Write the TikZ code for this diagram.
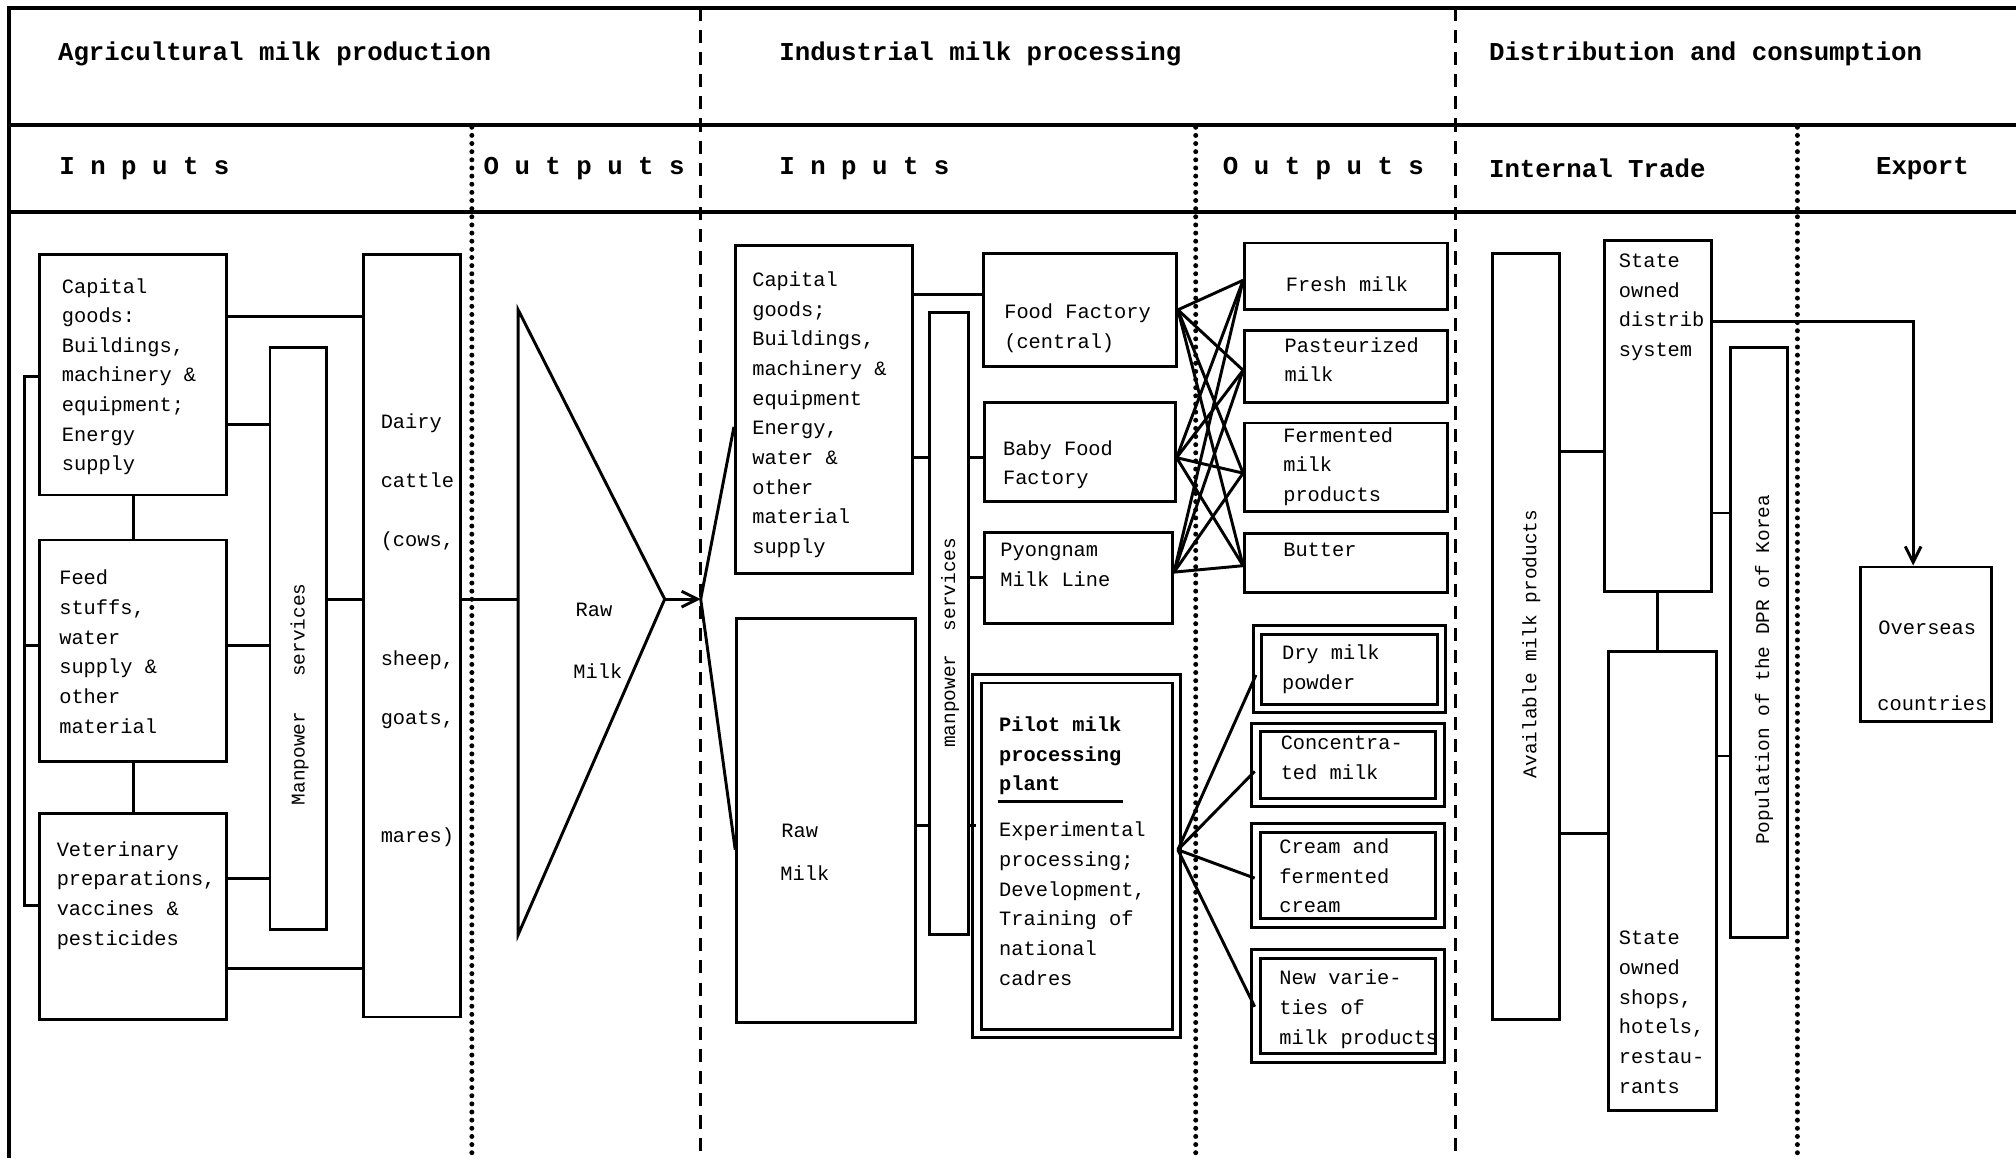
\documentclass[tikz,border=0pt]{standalone}
\usepackage{fontspec}
\usetikzlibrary{arrows.meta, positioning, fit}
\newfontfamily\typefont{Liberation Mono}
\newcommand{\hdrfont}{\typefont\bfseries\fontsize{5.7}{7}\selectfont}
\newcommand{\boxfont}{\typefont\fontsize{4.5}{6.55}\selectfont}
\newcommand{\vertfont}{\typefont\fontsize{4.3}{6}\selectfont}
\newcommand{\stackl}[1]{\begin{tabular}[t]{@{}l@{}}#1\end{tabular}}

\begin{document}
\begin{tikzpicture}[x=0.01cm, y=-0.01cm, line width=0.65pt,
  box/.style={draw, inner sep=0pt},
  dbox/.style={draw, double, double distance=1.2pt, inner sep=0pt},
  txt/.style={font=\boxfont, inner sep=0pt, anchor=base west},
  hdr/.style={font=\hdrfont, inner sep=0pt, anchor=west},
  vtxt/.style={font=\vertfont, inner sep=0pt, rotate=90},
  border/.style={line width=0.8pt},
  dashsep/.style={line width=0.55pt, dash pattern=on 2.9pt off 2pt},
  dotsep/.style={line width=1.1pt, line cap=round, dash pattern=on 0pt off 1.8pt},
  >={Straight Barb[length=3.5pt, width=3.5pt]}]
   \useasboundingbox (0,0) rectangle (1568,901);
   \draw[border] (1568,6) -- (7,6) -- (7,901);
   \draw[border] (7,97) -- (1568,97);
   \draw[border] (7,165) -- (1568,165);
   \draw[dashsep] (545,6) -- (545,901);
   \draw[dashsep] (1132,6) -- (1132,901);
   \foreach \x in {367,930,1398} \draw[dotsep] (\x,99) -- (\x,901);

   \node[hdr] (hAgr) at (44,42) {Agricultural milk production};
   \node[hdr] (hInd) at (605,42) {Industrial milk processing};
   \node[hdr] (hDis) at (1157,42) {Distribution and consumption};
   \node[hdr] (hInA) at (45,131) {I n p u t s};
   \node[hdr] (hOutA) at (375,131) {O u t p u t s};
   \node[hdr] (hInI) at (605,131) {I n p u t s};
   \node[hdr] (hOutI) at (950,131) {O u t p u t s};
   \node[hdr] (hTrade) at (1157,131) {Internal Trade};
   \node[hdr] (hExp) at (1458,131) {Export};

   \node[box, fit={(31,198) (176,385)}] (capA) {};
   \node[box, fit={(31,420) (176,592)}] (feedA) {};
   \node[box, fit={(31,633) (176,793)}] (vetA) {};
   \node[box, fit={(210,270) (254,723)}] (manA) {};
   \node[box, fit={(283,198) (358,791)}] (dairy) {};
   \node[txt] (capAt) at (47,228) {\stackl{Capital\\goods:\\Buildings,\\machinery \&\\equipment;\\Energy\\supply}};
   \node[txt] (feedAt) at (45,455) {\stackl{Feed\\stuffs,\\water\\supply \&\\other\\material}};
   \node[txt] (vetAt) at (43,666) {\stackl{Veterinary\\preparations,\\vaccines \&\\pesticides}};
   \node[txt] (dairyt) at (295,333) {\stackl{Dairy\\ \\cattle\\ \\(cows,\\ \\ \\ \\sheep,\\ \\goats,\\ \\ \\ \\mares)}};
   \node[vtxt] (manAt) at (233,540) {Manpower~~~services};

   \draw (capA.east |- 0,246) -- (dairy.west |- 0,246);
   \draw (capA.east |- 0,330) -- (manA.west |- 0,330);
   \draw (feedA.east |- 0,502) -- (manA.west |- 0,502);
   \draw (vetA.east |- 0,683) -- (manA.west |- 0,683);
   \draw (vetA.east |- 0,753) -- (dairy.west |- 0,753);
   \draw (manA.east |- 0,466) -- (dairy.west |- 0,466);
   \draw (capA.south) -- (feedA.north);
   \draw (feedA.south) -- (vetA.north);
   \coordinate (brkT) at (19,293);
   \coordinate (brkB) at (19,704);
   \draw (capA.west |- brkT) -- (brkT) -- (brkB) -- (vetA.west |- brkB);
   \draw (brkT |- 0,502) -- (feedA.west |- 0,502);

   \coordinate (triT) at (403,241);
   \coordinate (triB) at (403,727);
   \coordinate (triP) at (517,466);
   \coordinate (split) at (545,466);
   \draw (triT) -- (triP) -- (triB) -- cycle;
   \node[txt, anchor=center] (rawAt1) at (462,474) {Raw};
   \node[txt, anchor=center] (rawAt2) at (465,522) {Milk};
   \draw (dairy.east |- 0,466) -- (triT |- 0,466);
   \draw[->] (triP) -- (split);

   \node[box, fit={(572,191) (710,446)}] (capI) {};
   \node[box, fit={(573,481) (712,795)}] (rawI) {};
   \node[box, fit={(723,243) (753,727)}] (manI) {};
   \node[box, fit={(765,197) (915,285)}] (foodF) {};
   \node[box, fit={(766,313) (914,390)}] (babyF) {};
   \node[box, fit={(766,414) (912,485)}] (pyong) {};
   \node[dbox, fit={(760,528) (915,804)}] (pilot) {};
   \node[txt] (capIt) at (584,223) {\stackl{Capital\\goods;\\Buildings,\\machinery \&\\equipment\\Energy,\\water \&\\other\\material\\supply}};
   \node[txt, anchor=center] (rawIt1) at (622,646) {Raw};
   \node[txt, anchor=center] (rawIt2) at (626,679) {Milk};
   \node[vtxt] (manIt) at (739,500) {manpower~~services};
   \node[txt] (foodFt) at (780,248) {\stackl{Food Factory\\(central)}};
   \node[txt] (babyFt) at (779,354) {\stackl{Baby Food\\Factory}};
   \node[txt] (pyongt) at (777,433) {\stackl{Pyongnam\\Milk Line}};
   \node[txt, font=\boxfont\bfseries] (pilotH) at (776,569) {\stackl{Pilot milk\\processing\\plant}};
   \draw (pilotH.south west) -- (pilotH.south east);
   \node[txt] (pilotB) at (776,651) {\stackl{Experimental\\processing;\\Development,\\Training of\\national\\cadres}};

   \draw (split) -- (capI.west |- 0,332);
   \draw (split) -- (rawI.west |- 0,661);
   \draw (capI.east |- 0,229) -- (foodF.west |- 0,229);
   \draw (capI.east |- 0,356) -- (manI.west |- 0,356);
   \draw (manI.east |- 0,356) -- (babyF.west |- 0,356);
   \draw (manI.east |- 0,449) -- (pyong.west |- 0,449);
   \draw (rawI.east |- 0,642) -- (manI.west |- 0,642);
   \draw (manI.east |- 0,642) -- (pilot.west |- 0,642);

   \node[box, fit={(968,189) (1126,241)}] (fresh) {};
   \node[box, fit={(968,257) (1126,313)}] (past) {};
   \node[box, fit={(968,329) (1126,398)}] (ferm) {};
   \node[box, fit={(968,415) (1126,461)}] (butter) {};
   \node[dbox, fit={(978,490) (1121,551)}] (dry) {};
   \node[dbox, fit={(977,566) (1120,624)}] (conc) {};
   \node[dbox, fit={(977,644) (1120,718)}] (cream) {};
   \node[dbox, fit={(977,742) (1120,823)}] (newv) {};
   \node[txt] (fresht) at (999,227) {Fresh milk};
   \node[txt] (pastt) at (998,274) {\stackl{Pasteurized\\milk}};
   \node[txt] (fermt) at (997,344) {\stackl{Fermented\\milk\\products}};
   \node[txt] (buttert) at (997,433) {Butter};
   \node[txt] (dryt) at (996,513) {\stackl{Dry milk\\powder}};
   \node[txt] (conct) at (995,583) {\stackl{Concentra-\\ted milk}};
   \node[txt] (creamt) at (994,664) {\stackl{Cream and\\fermented\\cream}};
   \node[txt] (newvt) at (994,766) {\stackl{New varie-\\ties of\\milk products}};

   \foreach \src/\sy in {foodF/241, babyF/356, pyong/445}
      \foreach \dst/\dy in {fresh/218, past/288, ferm/368, butter/440}
         \draw (\src.east |- 0,\sy) -- (\dst.west |- 0,\dy);
   \foreach \dst/\dy in {dry/525, conc/600, cream/683, newv/783}
      \draw (pilot.east |- 0,661) -- (\dst.west |- 0,\dy);

   \node[box, fit={(1161,197) (1213,793)}] (avail) {};
   \node[box, fit={(1248,187) (1331,460)}] (stateD) {};
   \node[box, fit={(1251,507) (1335,864)}] (stateS) {};
   \node[box, fit={(1346,270) (1390,729)}] (popul) {};
   \node[box, fit={(1447,441) (1549,561)}] (overseas) {};
   \node[vtxt] (availt) at (1191,501) {Available milk products};
   \node[vtxt] (poput) at (1372,521) {Population of the DPR of Korea};
   \node[txt] (stateDt) at (1258,208) {\stackl{State\\owned\\distrib\\system}};
   \node[txt] (stateSt) at (1258,735) {\stackl{State\\owned\\shops,\\hotels,\\restau-\\rants}};
   \node[txt, anchor=center] (overt1) at (1499,488) {Overseas};
   \node[txt, anchor=center] (overt2) at (1503,547) {countries};

   \draw (avail.east |- 0,351) -- (stateD.west |- 0,351);
   \draw (avail.east |- 0,648) -- (stateS.west |- 0,648);
   \draw (stateD.south) -- (stateD.south |- stateS.north);
   \draw (stateD.east |- 0,399) -- (popul.west |- 0,399);
   \draw (stateS.east |- 0,588) -- (popul.west |- 0,588);
   \draw[->] (stateD.east |- 0,250) -| ([xshift=-0.1cm]overseas.north);
\end{tikzpicture}
\end{document}
